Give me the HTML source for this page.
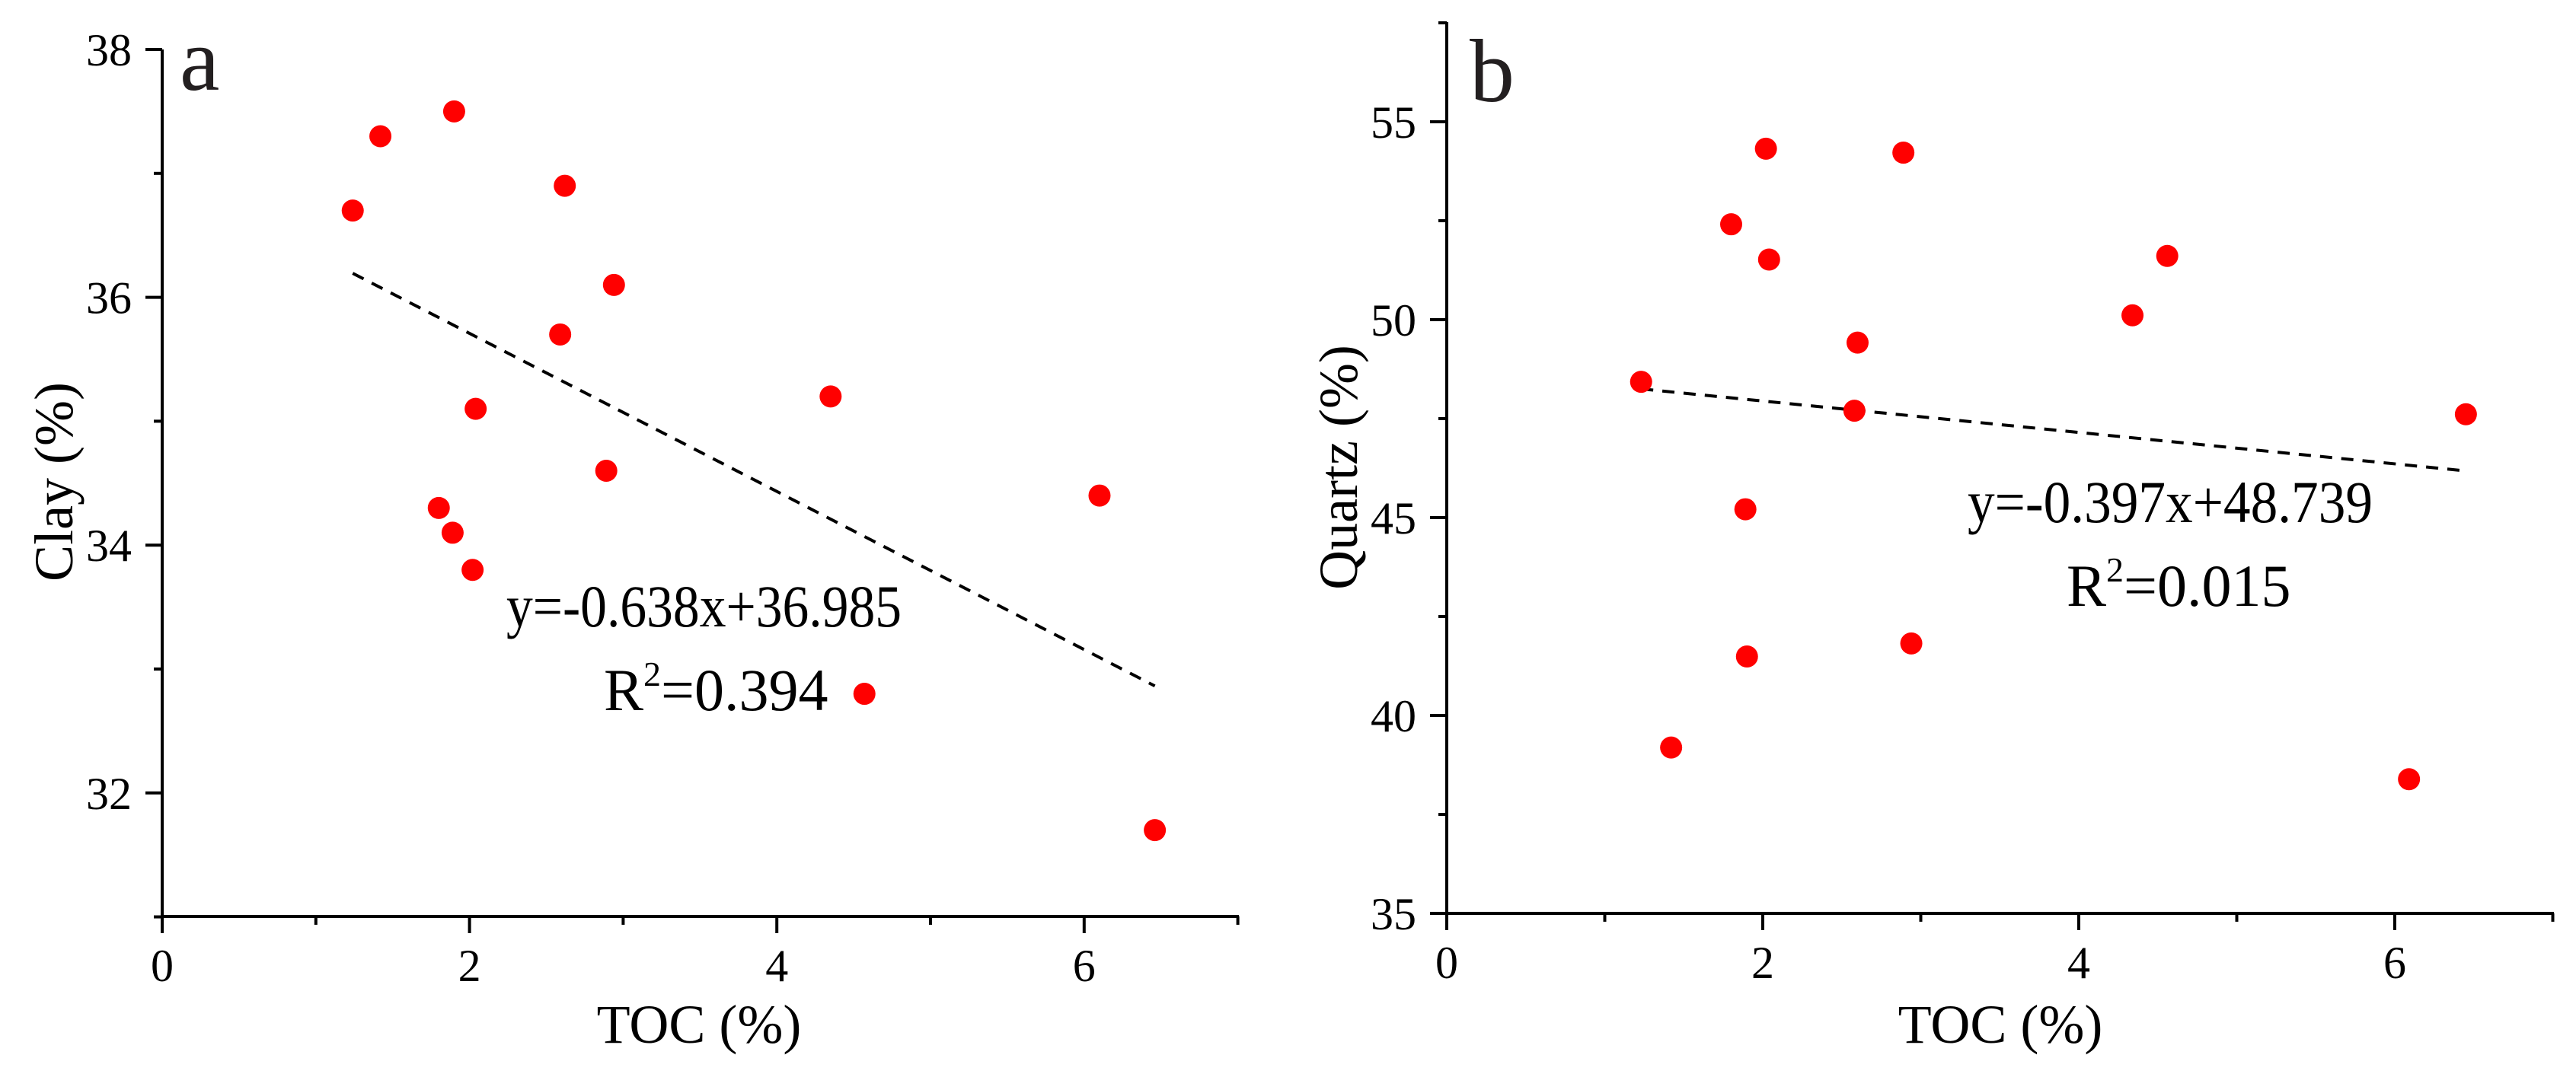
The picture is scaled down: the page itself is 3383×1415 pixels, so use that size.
<!DOCTYPE html>
<html><head><meta charset="utf-8"><style>
html,body{margin:0;padding:0;background:#fff;}
svg{display:block;font-family:"Liberation Serif","Times New Roman",serif;}
</style></head><body>
<svg id="chart" width="3383" height="1415" viewBox="0 0 3383 1415" xmlns="http://www.w3.org/2000/svg"></svg>
<script>
// Panel a data (Clay vs TOC)
const tocA = [1.24,1.42,1.90,2.62,2.94,2.59,2.04,4.35,2.89,1.80,1.89,2.02,6.10,4.57,6.46];
const clayA = [36.70,37.30,37.50,36.90,36.10,35.70,35.10,35.20,34.60,34.30,34.10,33.80,34.40,32.80,31.70];
// Panel b data (Quartz vs TOC)
const tocB = [1.23,1.42,1.80,2.02,2.04,1.89,1.90,2.58,2.60,2.89,2.94,4.34,4.56,6.09,6.45];
const quartzB = [48.43,39.19,52.41,54.32,51.52,45.21,41.49,47.70,49.42,54.22,41.82,50.11,51.61,38.39,47.61];
const xTicks = [0,2,4,6];
const yTicksA = [32,34,36,38];
const yTicksB = [35,40,45,50,55];
const fitA = [-0.638, 36.985];
const fitB = [-0.397, 48.739];

const NS = "http://www.w3.org/2000/svg";
const svg = document.getElementById('chart');
function mk(tag, attrs, parent){const e=document.createElementNS(NS,tag);for(const k in attrs)e.setAttribute(k,attrs[k]);(parent||svg).appendChild(e);return e;}

function panel(cfg){
  const g = mk('g',{});
  
  
  const sx = v => cfg.x0 + v * cfg.xu;
  const sy = v => cfg.yRef + (cfg.vRef - v) * cfg.yu;
  const ya = mk('line',{x1:cfg.x0,y1:cfg.yTop,x2:cfg.x0,y2:cfg.yBot+1.5,stroke:'#000','stroke-width':4},g);
  
  
  const xa = mk('line',{x1:cfg.x0-1.5,y1:cfg.yBot,x2:sx(7)+1.5,y2:cfg.yBot,stroke:'#000','stroke-width':4},g);
  
  
  for(let v=0; v<=7; v++){
    const major = v%2===0;
    mk('line',{x1:sx(v),y1:cfg.yBot,x2:sx(v),y2:cfg.yBot+(major?22:11),stroke:'#000','stroke-width':4},g);
  }
  xTicks.forEach(v=>{
    const t = mk('text',{x:sx(v),y:cfg.yBot+85,'font-size':60,'text-anchor':'middle',fill:'#000'},g);
    t.textContent = v;
    
    
  });
  for(let v=cfg.yMinorStart; v<=cfg.yMax+1e-9; v+=cfg.yMinor){
    const major = cfg.yTicks.some(t=>Math.abs(t-v)<1e-6);
    mk('line',{x1:cfg.x0-(major?22:11),y1:sy(v),x2:cfg.x0,y2:sy(v),stroke:'#000','stroke-width':4},g);
  }
  cfg.yTicks.forEach(v=>{
    const t = mk('text',{x:cfg.x0-40,y:sy(v)+21,'font-size':60,'text-anchor':'end',fill:'#000'},g);
    t.textContent = v;
    
    
  });
  const fx1 = Math.max(...cfg.xs);
  const fxa = Math.min(...cfg.xs);
  const tl = mk('line',{x1:sx(fxa),y1:sy(cfg.fit[0]*fxa+cfg.fit[1]),x2:sx(fx1),y2:sy(cfg.fit[0]*fx1+cfg.fit[1]),stroke:'#000','stroke-width':4,'stroke-dasharray':'16 12'},g);
  
  
  cfg.xs.forEach((xv,i)=>{
    const c = mk('circle',{cx:sx(xv),cy:sy(cfg.ys[i]),r:14.5,fill:'#ff0000'},g);
    
    
  });
  const eq = mk('text',{x:cfg.eqX,y:cfg.eqY,'font-size':78,textLength:cfg.eqW,lengthAdjust:'spacingAndGlyphs',fill:'#000'},g);
  eq.textContent = cfg.eqText;
  
  
  const r2 = mk('text',{x:cfg.r2X,y:cfg.eqY+110,'font-size':78,fill:'#000'},g);
  r2.innerHTML = 'R<tspan font-size="46" dy="-32">2</tspan><tspan dy="32">=' + cfg.r2 + '</tspan>';
  
  
  const xt = mk('text',{x:cfg.xtX,y:1370,'font-size':72,'text-anchor':'middle',fill:'#000'},g);
  xt.textContent = 'TOC (%)';
  
  
  const yt = mk('text',{x:0,y:0,'font-size':72,'text-anchor':'middle',fill:'#000',transform:`translate(${cfg.ytX},${cfg.ytY}) rotate(-90)`},g);
  yt.textContent = cfg.ytText;
  
  
  const pl = mk('text',{x:cfg.plX,y:cfg.plY,'font-size':118,fill:'#231f20'},g);
  pl.textContent = cfg.label;
  
  
}

panel({name:'panel-a-clay', x0:213, xu:201.8, yRef:65, vRef:38, yu:162.8, yTop:65, yBot:1204,
  yTicks:yTicksA, yMinorStart:31, yMinor:1, yMax:38, xs:tocA, ys:clayA, fit:fitA,
  eqText:'y=-0.638x+36.985', eqX:665, eqY:823, eqW:519, r2X:793, r2:'0.394',
  xtX:918, ytText:'Clay (%)', ytX:95, ytY:633, label:'a', plX:236, plY:118});
panel({name:'panel-b-quartz', x0:1900, xu:207.5, yRef:160, vRef:55, yu:52, yTop:29, yBot:1200,
  yTicks:yTicksB, yMinorStart:35, yMinor:2.5, yMax:57.5, xs:tocB, ys:quartzB, fit:fitB,
  eqText:'y=-0.397x+48.739', eqX:2584, eqY:686, eqW:532, r2X:2714, r2:'0.015',
  xtX:2627, ytText:'Quartz (%)', ytX:1782, ytY:614, label:'b', plX:1930, plY:133});
</script>
</body></html>
